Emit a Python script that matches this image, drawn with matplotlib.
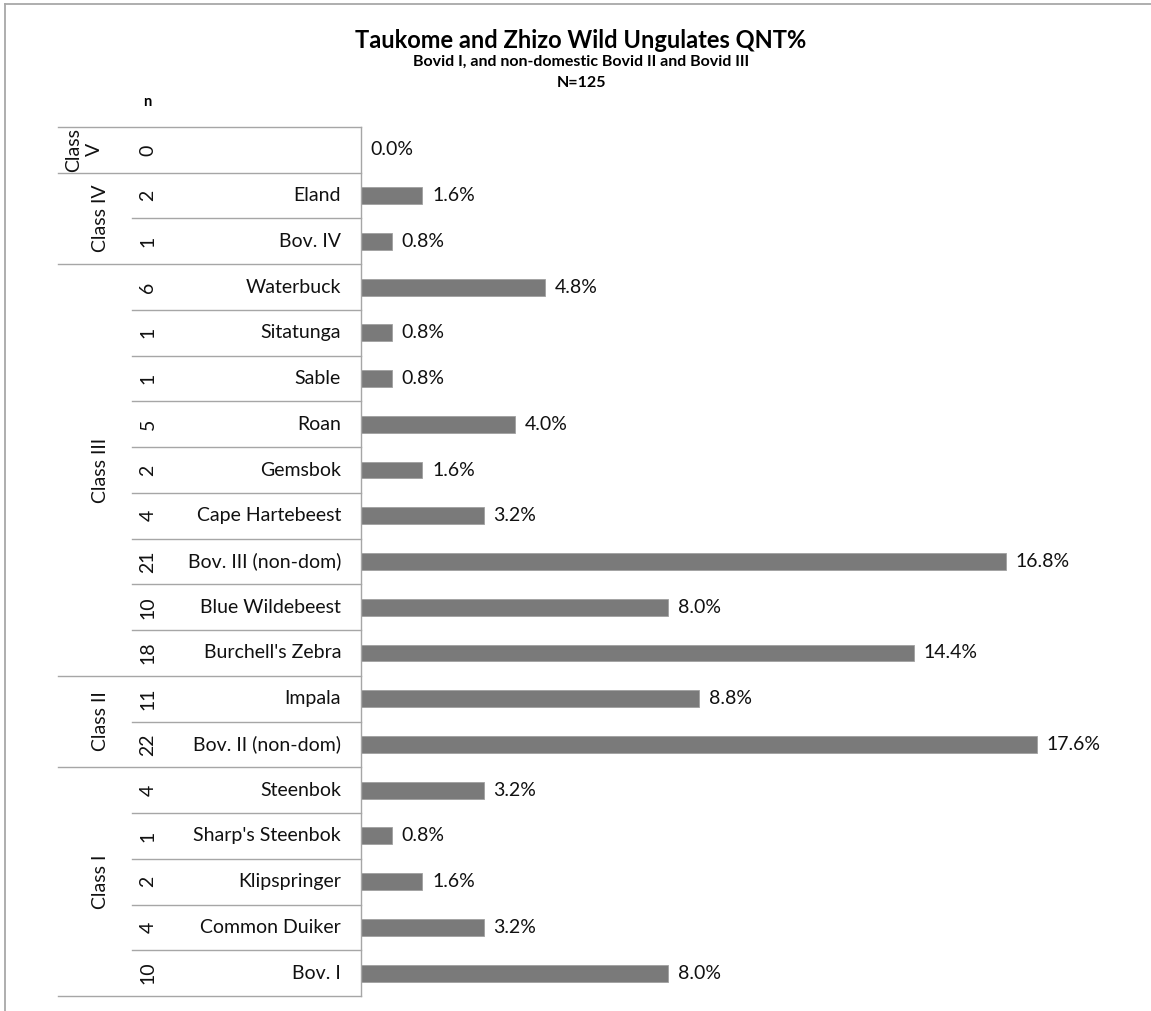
import matplotlib
matplotlib.use("Agg")
import matplotlib.pyplot as plt
from matplotlib.transforms import blended_transform_factory
from matplotlib.lines import Line2D

# Data (bottom to top)
labels = ["Bov. I", "Common Duiker", "Klipspringer", "Sharp's Steenbok", "Steenbok",
          "Bov. II (non-dom)", "Impala",
          "Burchell's Zebra", "Blue Wildebeest", "Bov. III (non-dom)", "Cape Hartebeest",
          "Gemsbok", "Roan", "Sable", "Sitatunga", "Waterbuck",
          "Bov. IV", "Eland",
          ""]
counts = [10, 4, 2, 1, 4, 22, 11, 18, 10, 21, 4, 2, 5, 1, 1, 6, 1, 2, 0]
percents = [8.0, 3.2, 1.6, 0.8, 3.2, 17.6, 8.8, 14.4, 8.0, 16.8, 3.2, 1.6, 4.0, 0.8, 0.8, 4.8, 0.8, 1.6, 0.0]
groups = ["Class I", "Class II", "Class III", "Class IV", "Class\nV"]
group_sizes = [5, 2, 9, 2, 1]

W, H = 1151, 1011
plt.rcParams['font.family'] = ['Lato', 'DejaVu Sans']
fig = plt.figure(figsize=(W / 100, H / 100), dpi=100)

ax_left, ax_right, ax_top, ax_bottom = 361, 1129, 127, 996
ax = fig.add_axes([ax_left / W, 1 - ax_bottom / H, (ax_right - ax_left) / W, (ax_bottom - ax_top) / H])

n = len(labels)
y = list(range(n))
ax.barh(y, percents, height=0.37, color='#7a7a7a', edgecolor='#a0a0a0', linewidth=0.6)
ax.set_xlim(0, 20)
ax.set_ylim(-0.5, n - 0.5)
for s in ['top', 'right', 'bottom']:
    ax.spines[s].set_visible(False)
ax.spines['left'].set_color('#a6a6a6')
ax.spines['left'].set_linewidth(1.0)
ax.set_xticks([])
ax.set_yticks([])

fs = 14
tc = '#111111'
for yi, p in zip(y, percents):
    ax.annotate(f"{p:.1f}%", (p, yi), xytext=(7, 0), textcoords='offset points',
                va='center', ha='left', fontsize=fs, color=tc)

tr = blended_transform_factory(fig.transFigure, ax.transData)
lc = '#a6a6a6'
boundaries = [-0.5]
acc = -0.5
for gs in group_sizes:
    acc += gs
    boundaries.append(acc)
for k in range(n + 1):
    yb = k - 0.5
    x0 = 58 if yb in boundaries else 132
    fig.add_artist(Line2D([x0 / W, ax_left / W], [yb, yb], transform=tr, color=lc, linewidth=1.0))

for yi, c, lab in zip(y, counts, labels):
    fig.text(148 / W, yi, str(c), transform=tr, rotation=90, ha='center', va='center', fontsize=fs, color=tc)
    fig.text(341 / W, yi, lab, transform=tr, ha='right', va='center', fontsize=fs, color=tc)

start = -0.5
for g, gs in zip(groups, group_sizes):
    center = start + gs / 2
    xg = 84 if "\n" in g else 100
    fig.text(xg / W, center, g, transform=tr, rotation=90, ha='center', va='center',
             fontsize=fs, color=tc, linespacing=1.25, multialignment='center')
    start += gs

fig.text(147 / W, 1 - 102 / H, "n", ha='center', va='center', fontsize=10.5, fontweight='bold')
fig.text(581 / W, 1 - 40 / H, "Taukome and Zhizo Wild Ungulates QNT%", ha='center', va='center',
         fontsize=17, fontweight='bold')
fig.text(581 / W, 1 - 62 / H, "Bovid I, and non-domestic Bovid II and Bovid III", ha='center', va='center',
         fontsize=11.5, fontweight='bold')
fig.text(581 / W, 1 - 83 / H, "N=125", ha='center', va='center', fontsize=11.5, fontweight='bold')

# figure border (top and left)
fig.add_artist(Line2D([5 / W, 1], [1 - 4 / H, 1 - 4 / H], color='#a8a8a8', linewidth=1.3))
fig.add_artist(Line2D([5 / W, 5 / W], [0, 1 - 4 / H], color='#a8a8a8', linewidth=1.3))

fig.savefig("out.png", dpi=100)
